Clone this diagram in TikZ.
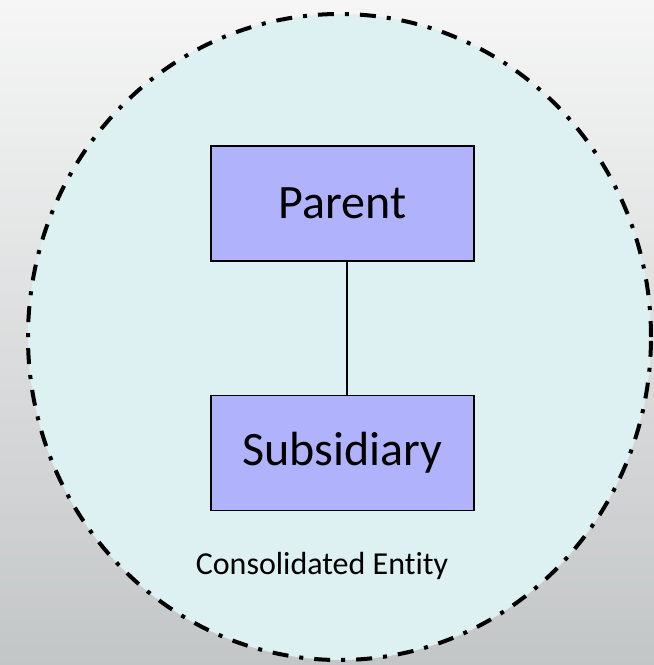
\documentclass[tikz,border=0pt]{standalone}
\usepackage{fontspec}
\setmainfont{Carlito}[Ligatures=NoCommon]
\usetikzlibrary{positioning}
\definecolor{bgtop}{HTML}{F6F6F6}
\definecolor{bgbot}{HTML}{C3C6C7}
\definecolor{entfill}{HTML}{DDF0F2}
\definecolor{boxfill}{HTML}{B0B3FB}

\begin{document}
\begin{tikzpicture}[x=1pt,y=-1pt,node distance=133pt,every node/.append style={align=center},
  entity/.style={draw=black, line width=1.5pt, fill=boxfill, minimum width=263pt, minimum height=115pt, inner sep=0pt, font=\fontsize{48}{54}\selectfont},
  boundary/.style={draw=black, line width=4pt, fill=entfill, dash pattern=on 16pt off 11pt on 4pt off 11pt}]
    \useasboundingbox (0,0) rectangle (654,665);
    \shade[top color=bgtop, bottom color=bgbot] (0,0) rectangle (654,665);
    \path[boundary] (339.5,337) ellipse [x radius=311.5pt, y radius=323pt];
    \node [entity] (P) at (342.5,203.5) {Parent};
    \node [entity, below=of P] (S) {Subsidiary};
    \node [font=\fontsize{32}{36}\selectfont] (CE) at (322,566) {Consolidated Entity};
    \draw[line width=1.6pt] ([xshift=4.5pt]P.south) -- ([xshift=4.5pt]S.north);
\end{tikzpicture}
\end{document}
